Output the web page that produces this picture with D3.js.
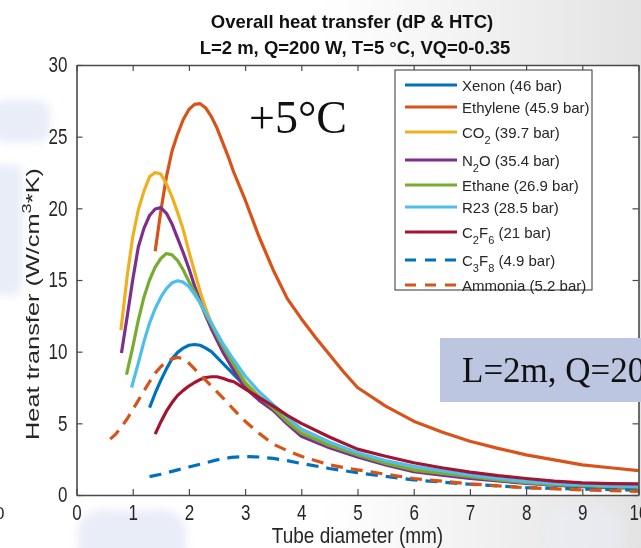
<!DOCTYPE html>
<html>
<head>
<meta charset="utf-8">
<script src="https://cdn.jsdelivr.net/npm/d3@7"></script>
<style>
  html, body { margin: 0; padding: 0; background: #fff; }
  svg { display: block; font-family: "Liberation Sans", Arial, sans-serif; }
</style>
</head>
<body>
<svg width="641" height="548"></svg>
<script>
// tube diameter (mm) and heat transfer (W/cm^3*K)
const xenonD = [1.3, 1.4, 1.5, 1.6, 1.7, 1.8, 1.9, 2.0, 2.1, 2.2, 2.3, 2.4, 2.5, 2.6, 2.7, 2.8, 3.0, 3.25, 3.5, 3.75, 4.0, 4.5, 5, 5.5, 6, 6.5, 7, 7.5, 8, 8.5, 9, 9.5, 10];
const xenonH = [6.1, 7.1, 8.0, 8.8, 9.5, 9.95, 10.25, 10.45, 10.5, 10.45, 10.25, 10.0, 9.6, 9.2, 8.8, 8.4, 7.6, 6.7, 5.95, 5.15, 4.45, 3.5, 2.75, 2.25, 1.85, 1.55, 1.3, 1.1, 0.92, 0.78, 0.68, 0.6, 0.54];

const ethyleneD = [1.4, 1.5, 1.6, 1.7, 1.8, 1.9, 2.0, 2.1, 2.2, 2.3, 2.4, 2.5, 2.6, 2.7, 2.8, 3.0, 3.25, 3.5, 3.75, 4.0, 4.25, 4.5, 4.75, 5, 5.5, 6, 6.5, 7, 7.5, 8, 8.5, 9, 9.5, 10];
const ethyleneH = [17.0, 19.8, 22.2, 24.0, 25.2, 26.2, 26.9, 27.25, 27.3, 27.0, 26.4, 25.6, 24.6, 23.6, 22.5, 20.6, 18.0, 15.7, 13.7, 12.3, 11.0, 9.8, 8.6, 7.5, 6.2, 5.15, 4.4, 3.75, 3.25, 2.8, 2.45, 2.1, 1.9, 1.7];

const co2D = [0.79, 0.9, 1.0, 1.1, 1.2, 1.3, 1.4, 1.5, 1.6, 1.7, 1.8, 1.9, 2.0, 2.1, 2.2, 2.3, 2.4, 2.5, 2.6, 2.75, 3.0, 3.25, 3.5, 3.75, 4.0, 4.5, 5, 5.5, 6, 6.5, 7, 7.5, 8, 8.5, 9, 9.5, 10];
const co2H = [11.5, 15.2, 18.0, 19.9, 21.2, 22.2, 22.5, 22.4, 21.7, 20.8, 19.7, 18.5, 17.0, 15.6, 14.2, 13.0, 12.0, 11.1, 10.3, 9.3, 7.9, 6.85, 6.1, 5.15, 4.4, 3.5, 2.85, 2.3, 1.85, 1.55, 1.32, 1.1, 0.92, 0.78, 0.67, 0.6, 0.54];

const n2oD = [0.8, 0.9, 1.0, 1.1, 1.2, 1.3, 1.4, 1.5, 1.6, 1.7, 1.8, 1.9, 2.0, 2.1, 2.2, 2.3, 2.4, 2.5, 2.6, 2.75, 3.0, 3.25, 3.5, 3.75, 4.0, 4.5, 5, 5.5, 6, 6.5, 7, 7.5, 8, 8.5, 9, 9.5, 10];
const n2oH = [9.9, 12.4, 15.0, 17.3, 18.6, 19.5, 19.95, 20.05, 19.65, 18.9, 17.9, 16.9, 15.8, 14.6, 13.5, 12.5, 11.6, 10.8, 10.0, 9.0, 7.5, 6.6, 5.9, 4.95, 4.1, 3.3, 2.65, 2.1, 1.63, 1.38, 1.16, 0.98, 0.81, 0.68, 0.58, 0.52, 0.47];

const ethaneD = [0.89, 1.0, 1.1, 1.2, 1.3, 1.4, 1.5, 1.6, 1.7, 1.8, 1.9, 2.0, 2.1, 2.2, 2.3, 2.4, 2.5, 2.6, 2.75, 3.0, 3.25, 3.5, 3.75, 4.0, 4.5, 5, 5.5, 6, 6.5, 7, 7.5, 8, 8.5, 9, 9.5, 10];
const ethaneH = [8.4, 10.3, 12.2, 13.8, 15.0, 15.9, 16.5, 16.85, 16.75, 16.35, 15.7, 14.9, 14.2, 13.4, 12.6, 11.9, 11.1, 10.4, 9.4, 7.8, 6.85, 6.05, 5.1, 4.3, 3.45, 2.8, 2.2, 1.74, 1.5, 1.28, 1.05, 0.86, 0.72, 0.63, 0.56, 0.51];

const r23D = [0.98, 1.1, 1.2, 1.3, 1.4, 1.5, 1.6, 1.7, 1.8, 1.9, 2.0, 2.1, 2.2, 2.3, 2.4, 2.5, 2.6, 2.75, 3.0, 3.25, 3.5, 3.75, 4.0, 4.5, 5, 5.5, 6, 6.5, 7, 7.5, 8, 8.5, 9, 9.5, 10];
const r23H = [7.5, 9.2, 10.7, 12.0, 13.0, 13.8, 14.4, 14.8, 14.95, 14.85, 14.55, 14.0, 13.4, 12.7, 12.0, 11.3, 10.6, 9.7, 8.3, 7.2, 6.3, 5.45, 4.6, 3.7, 2.95, 2.4, 2.0, 1.7, 1.4, 1.15, 0.95, 0.8, 0.7, 0.63, 0.58];

const c2f6D = [1.4, 1.5, 1.6, 1.7, 1.8, 1.9, 2.0, 2.1, 2.2, 2.3, 2.4, 2.5, 2.6, 2.7, 2.8, 3.0, 3.25, 3.5, 3.75, 4.0, 4.5, 5, 5.5, 6, 6.5, 7, 7.5, 8, 8.5, 9, 9.5, 10];
const c2f6H = [4.25, 5.1, 5.85, 6.45, 6.95, 7.3, 7.6, 7.85, 8.05, 8.2, 8.25, 8.25, 8.15, 8.0, 7.9, 7.4, 6.8, 6.2, 5.55, 5.0, 4.05, 3.2, 2.7, 2.25, 1.9, 1.6, 1.35, 1.15, 0.97, 0.84, 0.79, 0.77];

const c3f8D = [1.3, 1.5, 1.75, 2.0, 2.25, 2.5, 2.75, 3.0, 3.25, 3.5, 3.75, 4.0, 4.5, 5, 5.5, 6, 7, 8, 9, 10];
const c3f8H = [1.28, 1.45, 1.7, 1.95, 2.2, 2.45, 2.62, 2.68, 2.65, 2.55, 2.4, 2.2, 1.85, 1.55, 1.3, 1.05, 0.75, 0.52, 0.42, 0.33];

const ammoniaD = [0.6, 0.7, 0.8, 0.9, 1.0, 1.1, 1.2, 1.3, 1.4, 1.5, 1.6, 1.7, 1.8, 1.9, 2.0, 2.1, 2.2, 2.4, 2.6, 2.8, 3.0, 3.25, 3.5, 3.75, 4.0, 4.5, 5, 5.5, 6, 7, 8, 9, 10];
const ammoniaH = [3.9, 4.25, 4.75, 5.3, 5.95, 6.6, 7.25, 7.9, 8.5, 8.95, 9.3, 9.5, 9.6, 9.5, 9.2, 8.8, 8.4, 7.6, 6.8, 5.95, 5.15, 4.3, 3.55, 3.1, 2.7, 2.1, 1.75, 1.45, 1.15, 0.78, 0.5, 0.36, 0.25];

// legend labels, "_n" marks a subscript
const seriesLabels = ['Xenon (46 bar)', 'Ethylene (45.9 bar)', 'CO_2 (39.7 bar)', 'N_2O (35.4 bar)',
  'Ethane (26.9 bar)', 'R23 (28.5 bar)', 'C_2F_6 (21 bar)', 'C_3F_8 (4.9 bar)', 'Ammonia (5.2 bar)'];
const seriesColors = ['#0072BD', '#D95319', '#EDB120', '#7E2F8E', '#77AC30', '#4DBEEE', '#A2142F', '#0072BD', '#D95319'];
const seriesDashed = [false, false, false, false, false, false, false, true, true];
const seriesD = [xenonD, ethyleneD, co2D, n2oD, ethaneD, r23D, c2f6D, c3f8D, ammoniaD];
const seriesH = [xenonH, ethyleneH, co2H, n2oH, ethaneH, r23H, c2f6H, c3f8H, ammoniaH];

const xTicks = [0, 1, 2, 3, 4, 5, 6, 7, 8, 9, 10];
const yTicks = [0, 5, 10, 15, 20, 25, 30];

const svg = d3.select('svg');
const ink = '#262626';

// slide background behind the figure
const defs = svg.append('defs');
const grad = defs.append('linearGradient').attr('id', 'topgrad').attr('x1', 0).attr('x2', 1).attr('y1', 0).attr('y2', 0);
grad.append('stop').attr('offset', 0.5).attr('stop-color', '#ffffff');
grad.append('stop').attr('offset', 1).attr('stop-color', '#e3e3e3');
defs.append('filter').attr('id', 'soft')
  .append('feGaussianBlur').attr('stdDeviation', 4);
svg.append('rect').attr('width', 641).attr('height', 548).attr('fill', 'url(#topgrad)');
const blobs = svg.append('g').attr('fill', '#e9edf8').attr('filter', 'url(#soft)');
blobs.append('rect').attr('x', -10).attr('y', 100).attr('width', 60).attr('height', 42).attr('rx', 12);
blobs.append('rect').attr('x', -10).attr('y', 165).attr('width', 32).attr('height', 130).attr('rx', 8);
blobs.append('rect').attr('x', 78).attr('y', 510).attr('width', 108).attr('height', 60).attr('rx', 22);
blobs.append('rect').attr('x', 545).attr('y', 505).attr('width', 80).attr('height', 60).attr('rx', 22).attr('opacity', 0.5);
svg.append('text').attr('x', -5).attr('y', 519).attr('font-size', 17).attr('fill', ink).text('0');

const x = d3.scaleLinear().domain([0, 10]).range([76.5, 638.5]);
const y = d3.scaleLinear().domain([0, 30]).range([495, 65]);

svg.append('rect')
  .attr('x', x(0)).attr('y', y(30))
  .attr('width', x(10) - x(0)).attr('height', y(0) - y(30))
  .attr('fill', '#fff');

// curves
const line = d3.line()
  .x(d => x(d[0]))
  .y(d => y(d[1]));
seriesLabels.forEach((label, i) => {
  const pts = seriesD[i].map((d, j) => [d, seriesH[i][j]]);
  svg.append('path')
    .datum(pts)
    .attr('fill', 'none')
    .attr('stroke', seriesColors[i])
    .attr('stroke-width', 3.2)
    .attr('stroke-linejoin', 'round')
    .attr('stroke-dasharray', seriesDashed[i] ? '12,8' : null)
    .attr('d', line);
});

// axes box, ticks pointing inward
function styleAxis(g) {
  g.select('.domain').attr('stroke', '#4a4a4a').attr('stroke-width', 1.6);
  g.selectAll('.tick line').attr('stroke', '#4a4a4a').attr('stroke-width', 1.2);
  g.selectAll('.tick text').attr('fill', ink).attr('font-size', 17).attr('font-family', '"Liberation Sans", Arial, sans-serif');
}
svg.append('g')
  .attr('transform', `translate(0,${y(0)})`)
  .call(d3.axisBottom(x).tickValues(xTicks).tickSizeInner(-6).tickSizeOuter(0).tickPadding(8))
  .call(styleAxis)
  .selectAll('.tick text').attr('transform', 'scale(1,1.25)');
svg.append('g')
  .attr('transform', `translate(0,${y(30)})`)
  .call(d3.axisTop(x).tickValues(xTicks).tickSizeInner(-6).tickSizeOuter(0).tickFormat(''))
  .call(styleAxis);
svg.append('g')
  .attr('transform', `translate(${x(0)},0)`)
  .call(d3.axisLeft(y).tickValues(yTicks).tickSizeInner(-6).tickSizeOuter(0).tickPadding(9))
  .call(styleAxis)
  .selectAll('.tick text').attr('transform', 'scale(1,1.25)');
svg.append('g')
  .attr('transform', `translate(${x(10)},0)`)
  .call(d3.axisRight(y).tickValues(yTicks).tickSizeInner(-6).tickSizeOuter(0).tickFormat(''))
  .call(styleAxis);

// titles
const title = svg.append('g').attr('font-weight', 'bold').attr('font-size', 18.5).attr('fill', '#111').attr('text-anchor', 'middle');
title.append('text').attr('x', 352).attr('y', 28).text('Overall heat transfer (dP & HTC)');
title.append('text').attr('x', 355).attr('y', 54).text('L=2 m, Q=200 W, T=5 °C, VQ=0-0.35');

svg.append('text')
  .attr('transform', `translate(${(x(0) + x(10)) / 2},543) scale(1,1.15)`)
  .attr('text-anchor', 'middle').attr('font-size', 19).attr('fill', ink)
  .text('Tube diameter (mm)');

const ylab = svg.append('text')
  .attr('transform', 'translate(39,304) rotate(-90)')
  .attr('text-anchor', 'middle').attr('font-size', 18).attr('fill', ink)
  .attr('textLength', 272).attr('lengthAdjust', 'spacingAndGlyphs');
ylab.append('tspan').text('Heat transfer (W/cm');
ylab.append('tspan').attr('font-size', 13).attr('dy', -8).text('3');
ylab.append('tspan').attr('dy', 8).text('*K)');

// legend
const legendX = 395;
const legendTop = 70;
const hasSub = seriesLabels.map(s => s.includes('_'));
const rowY = [];
seriesLabels.forEach((s, i) => {
  if (i === 0) rowY.push(legendTop + 15);
  else rowY.push(rowY[i - 1] + 22 + 3 * ((hasSub[i - 1] ? 1 : 0) + (hasSub[i] ? 1 : 0)));
});
const legend = svg.append('g');
legend.append('rect')
  .attr('x', legendX).attr('y', legendTop)
  .attr('width', 197).attr('height', 220)
  .attr('fill', '#fff').attr('stroke', '#333').attr('stroke-width', 1);
seriesLabels.forEach((label, i) => {
  legend.append('line')
    .attr('x1', legendX + 10).attr('x2', legendX + 62)
    .attr('y1', rowY[i]).attr('y2', rowY[i])
    .attr('stroke', seriesColors[i]).attr('stroke-width', 3.2)
    .attr('stroke-dasharray', seriesDashed[i] ? '11,9' : null);
  const t = legend.append('text')
    .attr('x', legendX + 67).attr('y', rowY[i] + 5.5)
    .attr('font-size', 15).attr('fill', ink);
  let lowered = false;
  label.split(/(_\d)/).filter(p => p !== '').forEach((part) => {
    if (part.startsWith('_')) {
      t.append('tspan').attr('font-size', 11).attr('dy', lowered ? 0 : 6).text(part.slice(1));
      lowered = true;
    } else {
      t.append('tspan').attr('dy', lowered ? -6 : 0).text(part);
      lowered = false;
    }
  });
});

// annotations from the slide
svg.append('text')
  .attr('x', 249).attr('y', 133)
  .attr('font-family', '"Liberation Serif", "Times New Roman", serif')
  .attr('font-size', 46).attr('fill', '#111')
  .text('+5°C');
svg.append('rect')
  .attr('x', 440).attr('y', 338).attr('width', 220).attr('height', 64)
  .attr('fill', '#bcc6e0');
svg.append('text')
  .attr('x', 462).attr('y', 382)
  .attr('font-family', '"Liberation Serif", "Times New Roman", serif')
  .attr('font-size', 35).attr('fill', '#111')
  .text('L=2m, Q=200W');
</script>
</body>
</html>
